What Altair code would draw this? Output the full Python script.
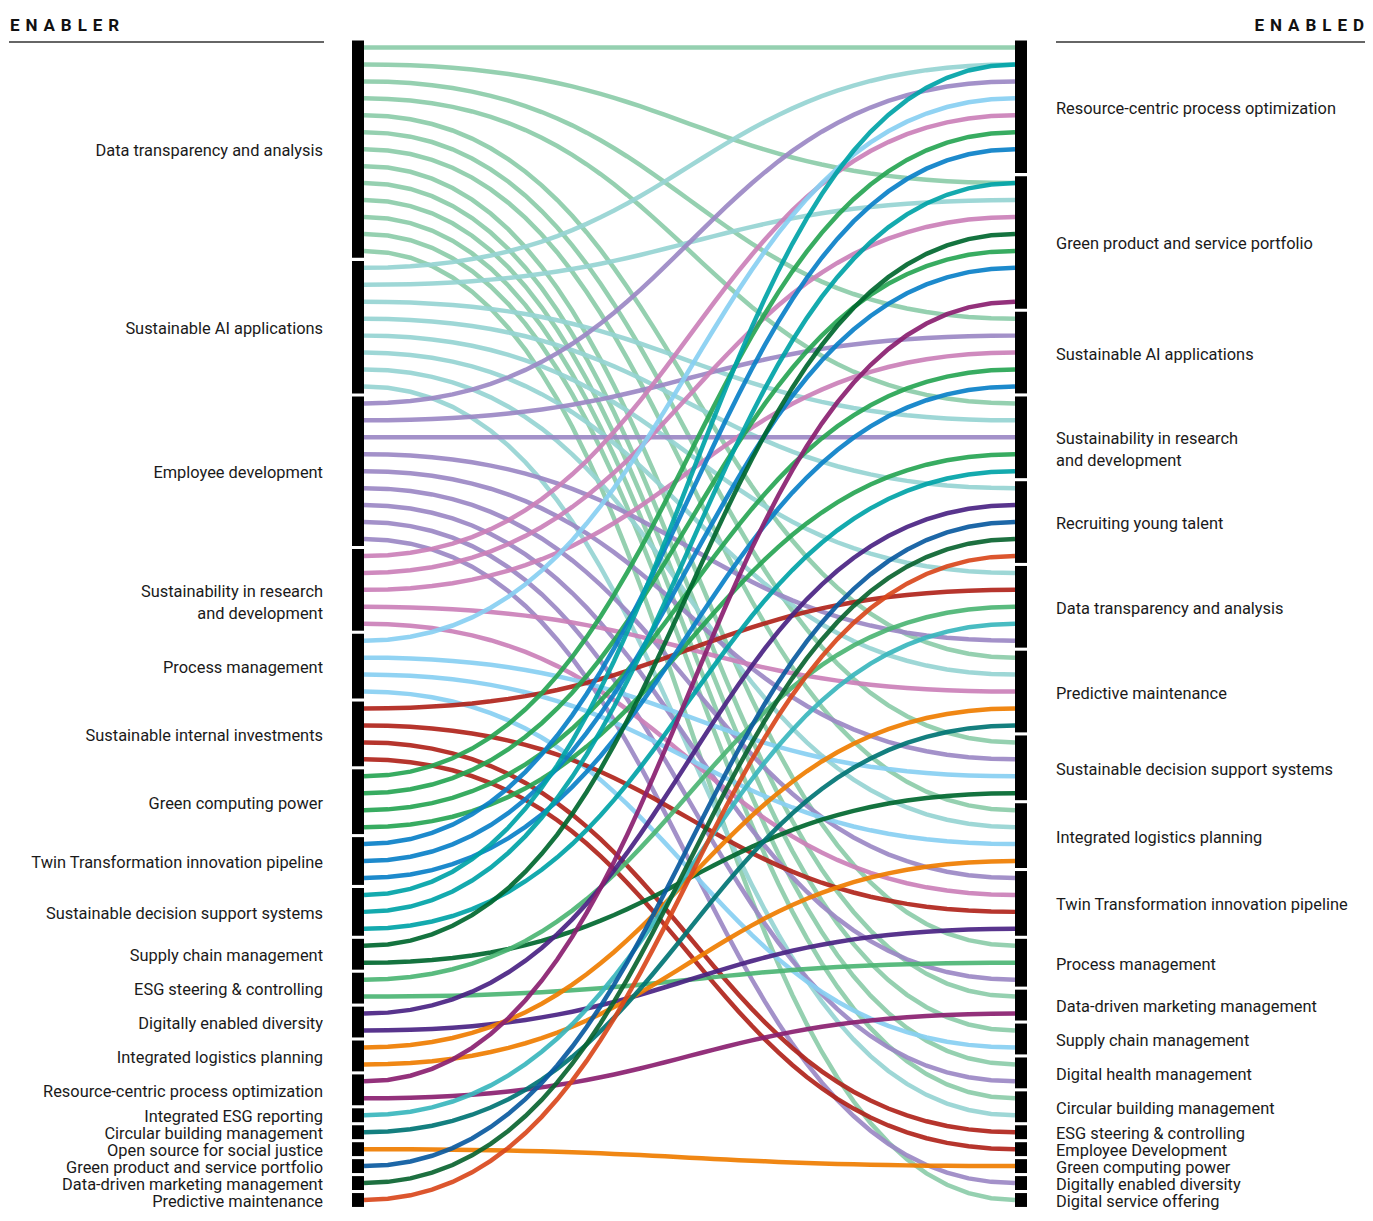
import altair as alt
import pandas as pd

# ---------------- data ----------------
enablers = [
    "Data transparency and analysis", "Sustainable AI applications", "Employee development",
    "Sustainability in research\nand development", "Process management",
    "Sustainable internal investments", "Green computing power",
    "Twin Transformation innovation pipeline", "Sustainable decision support systems",
    "Supply chain management", "ESG steering & controlling", "Digitally enabled diversity",
    "Integrated logistics planning", "Resource-centric process optimization",
    "Integrated ESG reporting", "Circular building management", "Open source for social justice",
    "Green product and service portfolio", "Data-driven marketing management", "Predictive maintenance",
]
enabler_colors = [
    "#8ccca9", "#96d4d3", "#9b88c4", "#cb80b8", "#88cff2", "#b0241b", "#27a554", "#0a80c8",
    "#00a3a7", "#00672f", "#4cb574", "#4a2383", "#ef7d00", "#8a2070", "#3ab6bd", "#007474",
    "#ef7d00", "#0a5aa0", "#0a6430", "#d9481c",
]
enabled = [
    "Resource-centric process optimization", "Green product and service portfolio",
    "Sustainable AI applications", "Sustainability in research\nand development",
    "Recruiting young talent", "Data transparency and analysis", "Predictive maintenance",
    "Sustainable decision support systems", "Integrated logistics planning",
    "Twin Transformation innovation pipeline", "Process management",
    "Data-driven marketing management", "Supply chain management", "Digital health management",
    "Circular building management", "ESG steering & controlling", "Employee Development",
    "Green computing power", "Digitally enabled diversity", "Digital service offering",
]
enabled_slots = [8, 8, 5, 5, 5, 5, 5, 4, 4, 4, 3, 2, 2, 2, 2, 1, 1, 1, 1, 1]

# links: enabler index -> enabled index, position inside the enabled bar
link_source = [0] * 13 + [1] * 8 + [2] * 9 + [3] * 5 + [4] * 4 + [5] * 4 + [6] * 4 + [7] * 3 + \
    [8] * 3 + [9] * 2 + [10] * 2 + [11] * 2 + [12] * 2 + [13] * 2 + [14, 15, 16, 17, 18, 19]
link_target = [0, 1, 2, 3, 6, 7, 8, 10, 11, 12, 13, 14, 19,
               0, 1, 3, 4, 5, 6, 8, 14,
               0, 2, 3, 5, 7, 9, 10, 13, 18,
               0, 1, 2, 6, 9,
               0, 7, 8, 12,
               5, 9, 15, 16,
               0, 1, 2, 3,
               0, 1, 2,
               0, 1, 3,
               1, 7,
               5, 10,
               4, 9,
               6, 8,
               1, 11,
               5, 6, 17, 4, 4, 4]
link_target_pos = [0, 0, 0, 0, 0, 0, 0, 0, 0, 0, 0, 0, 0,
                   1, 1, 1, 0, 0, 1, 1, 1,
                   2, 1, 2, 4, 1, 0, 2, 1, 0,
                   4, 2, 2, 2, 1,
                   3, 2, 2, 1,
                   1, 2, 0, 0,
                   5, 4, 3, 3,
                   6, 5, 4,
                   1, 0, 4,
                   3, 3,
                   2, 1,
                   1, 3,
                   3, 3,
                   7, 1,
                   3, 4, 0, 2, 3, 4]

SP = " \u200a"
header_left = SP.join("ENABLER")
header_right = SP.join("ENABLED")

# ---------------- layout tables ----------------
enabler_counts = [link_source.count(i) for i in range(len(enablers))]
left_start, acc = [], 0
for c in enabler_counts:
    left_start.append(acc)
    acc += c
right_start, acc = [], 0
for c in enabled_slots:
    right_start.append(acc)
    acc += c
n_slots = acc

seen = {}
y0, y1 = [], []
for s, t, p in zip(link_source, link_target, link_target_pos):
    k = seen.get(s, 0)
    seen[s] = k + 1
    y0.append(left_start[s] + k)
    y1.append(right_start[t] + p)

links = pd.DataFrame({
    "id": list(range(len(link_source))),
    "source": [enablers[s] for s in link_source],
    "y0": y0,
    "y1": y1,
})

half = 0.41
left_nodes = pd.DataFrame({
    "name": enablers,
    "xpos": 0,
    "lo": [left_start[i] - half for i in range(len(enablers))],
    "hi": [left_start[i] + enabler_counts[i] - 1 + half for i in range(len(enablers))],
    "mid": [left_start[i] + (enabler_counts[i] - 1) / 2 for i in range(len(enablers))],
})
right_nodes = pd.DataFrame({
    "name": enabled,
    "xpos": 1,
    "lo": [right_start[i] - half for i in range(len(enabled))],
    "hi": [right_start[i] + enabled_slots[i] - 1 + half for i in range(len(enabled))],
    "mid": [right_start[i] + (enabled_slots[i] - 1) / 2 for i in range(len(enabled))],
})

# ---------------- chart ----------------
W, H = 1357, 1205
FONT = "Roboto"
xs = alt.Scale(domain=[0, 1], range=[356, 1007])
ys = alt.Scale(domain=[0, n_slots - 1], range=[39.5, 1192])

link_chart = alt.Chart(links).transform_calculate(
    k="sequence(0, 41)"
).transform_flatten(["k"]).transform_calculate(
    t="datum.k / 40"
).transform_calculate(
    xp="1.5 * datum.t * (1 - datum.t) + pow(datum.t, 3)",
    yp="datum.y0 + (datum.y1 - datum.y0) * (3 * datum.t * datum.t - 2 * pow(datum.t, 3))",
).mark_line(strokeWidth=4.5, opacity=0.92, strokeCap="butt").encode(
    x=alt.X("xp:Q", scale=xs, axis=None),
    y=alt.Y("yp:Q", scale=ys, axis=None),
    color=alt.Color("source:N", scale=alt.Scale(domain=enablers, range=enabler_colors), legend=None),
    detail="id:N",
    order="t:Q",
)

left_bars = alt.Chart(left_nodes).mark_rule(
    strokeWidth=12, color="#000000", xOffset=-6, strokeCap="butt"
).encode(
    x=alt.X("xpos:Q", scale=xs, axis=None),
    y=alt.Y("lo:Q", scale=ys, axis=None),
    y2="hi:Q",
)
right_bars = alt.Chart(right_nodes).mark_rule(
    strokeWidth=12, color="#000000", xOffset=6, strokeCap="butt"
).encode(
    x=alt.X("xpos:Q", scale=xs, axis=None),
    y=alt.Y("lo:Q", scale=ys, axis=None),
    y2="hi:Q",
)

text_style = dict(baseline="middle", fontSize=16.4, font=FONT, lineBreak="\n",
                  lineHeight=22, color="#1a1a1a", dy=2)
left_text = alt.Chart(left_nodes).mark_text(align="right", dx=-41, **text_style).encode(
    x=alt.X("xpos:Q", scale=xs, axis=None),
    y=alt.Y("mid:Q", scale=ys, axis=None),
    text="name:N",
)
right_text = alt.Chart(right_nodes).mark_text(align="left", dx=41, **text_style).encode(
    x=alt.X("xpos:Q", scale=xs, axis=None),
    y=alt.Y("mid:Q", scale=ys, axis=None),
    text="name:N",
)

hdr_l = alt.Chart(pd.DataFrame({"h": [header_left]})).mark_text(
    align="left", baseline="alphabetic", fontSize=17, fontWeight="bold", font=FONT, color="#111111"
).encode(x=alt.value(2), y=alt.value(23), text="h:N")
hdr_r = alt.Chart(pd.DataFrame({"h": [header_right]})).mark_text(
    align="right", baseline="alphabetic", fontSize=17, fontWeight="bold", font=FONT, color="#111111"
).encode(x=alt.value(W - 1), y=alt.value(23), text="h:N")
line_l = alt.Chart(pd.DataFrame({"h": [header_left]})).mark_rule(color="#333333", strokeWidth=1.3).encode(
    x=alt.value(1), x2=alt.value(316), y=alt.value(34))
line_r = alt.Chart(pd.DataFrame({"h": [header_right]})).mark_rule(color="#333333", strokeWidth=1.3).encode(
    x=alt.value(1048), x2=alt.value(W), y=alt.value(34))

chart = alt.layer(
    link_chart, left_bars, right_bars, left_text, right_text, hdr_l, hdr_r, line_l, line_r
).properties(
    width=W, height=H, padding=0, autosize="none", background="white"
).configure_view(stroke=None)

chart.save("out.html", embed_options={"renderer": "svg", "actions": False})
